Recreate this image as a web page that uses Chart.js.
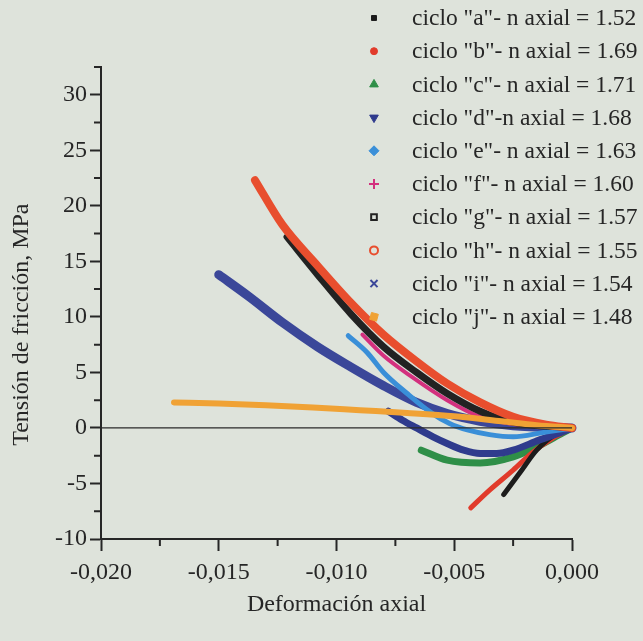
<!DOCTYPE html>
<html>
<head>
<meta charset="utf-8">
<title>Tensión de fricción - Deformación axial</title>
<script src="https://cdn.jsdelivr.net/npm/chart.js@4/dist/chart.umd.min.js"></script>
<style>
    html, body { margin: 0; padding: 0; background: #dee3db; }
    #caja { position: relative; width: 643px; height: 641px; }
</style>
</head>
<body>
<div id="caja"><canvas id="friccionChart" width="643" height="641"></canvas></div>
<script>
    // valores: [deformacion axial, tension MPa]
    var cicloA = [[-0.0029, -6.0], [-0.0022, -4.0], [-0.0015, -2.0], [-0.0006, -0.45], [0, 0]];
    var cicloB = [[-0.0043, -7.2], [-0.0035, -5.6], [-0.0025, -3.8], [-0.0017, -2.25], [-0.0008, -0.9], [0, 0]];
    var cicloC = [[-0.0064, -2.0], [-0.0053, -2.9], [-0.0039, -3.15], [-0.0025, -2.6], [-0.0015, -1.7], [-0.0004, -0.45], [0, 0]];
    var cicloD = [[-0.0078, 1.5], [-0.0072, 0.7], [-0.0066, 0], [-0.0059, -0.8], [-0.0053, -1.4], [-0.0046, -2.0], [-0.0039, -2.3], [-0.0032, -2.3], [-0.0025, -2.0], [-0.0014, -1.1], [-0.0004, -0.35], [0, 0]];
    var cicloE = [[-0.0095, 8.3], [-0.0087, 6.8], [-0.0080, 5.0], [-0.0070, 3.1], [-0.0060, 1.4], [-0.0052, 0.4], [-0.0044, -0.2], [-0.0035, -0.6], [-0.0025, -0.8], [-0.0012, -0.4], [0, 0]];
    var cicloF = [[-0.0089, 8.4], [-0.0080, 6.5], [-0.0068, 4.6], [-0.0053, 2.5], [-0.0039, 1.0], [-0.0025, 0.35], [-0.0012, 0.1], [0, 0]];
    var cicloG = [[-0.0121, 17.2], [-0.0108, 13.8], [-0.0094, 10.3], [-0.0080, 7.3], [-0.0066, 5.0], [-0.0053, 3.1], [-0.0039, 1.5], [-0.0025, 0.5], [0, 0]];
    var cicloH = [[-0.01346, 22.3], [-0.0123, 18.3], [-0.0108, 14.6], [-0.0094, 11.3], [-0.0080, 8.4], [-0.0066, 6.0], [-0.0053, 4.0], [-0.0039, 2.3], [-0.0025, 1.0], [-0.0011, 0.3], [0, 0]];
    var cicloI = [[-0.0150, 13.8], [-0.0137, 11.8], [-0.0123, 9.5], [-0.0108, 7.3], [-0.0094, 5.5], [-0.0080, 3.8], [-0.0066, 2.3], [-0.0053, 1.3], [-0.0039, 0.6], [-0.0025, 0.2], [0, 0]];
    var cicloJ = [[-0.0169, 2.3], [-0.0150, 2.2], [-0.0130, 2.05], [-0.0110, 1.85], [-0.0090, 1.6], [-0.0070, 1.35], [-0.0050, 1.05], [-0.0030, 0.6], [-0.0015, 0.25], [0, 0]];
    var lineaCero = [[-0.020, 0], [0, 0]];

    var nombres = ['ciclo "a"- n axial = 1.52', 'ciclo "b"- n axial = 1.69', 'ciclo "c"- n axial = 1.71',
        'ciclo "d"-n axial = 1.68', 'ciclo "e"- n axial = 1.63', 'ciclo "f"- n axial = 1.60',
        'ciclo "g"- n axial = 1.57', 'ciclo "h"- n axial = 1.55', 'ciclo "i"- n axial = 1.54',
        'ciclo "j"- n axial = 1.48'];
    var series = [cicloA, cicloB, cicloC, cicloD, cicloE, cicloF, cicloG, cicloH, cicloI, cicloJ];
    var colores = ['#1c1c1c', '#e13b2b', '#2f8f48', '#2f3b8d', '#3a8fd8', '#d3307e', '#222222', '#e84e2e', '#3b4799', '#f0a235'];
    var grosor = [5, 5, 7, 7, 5, 4, 7, 8, 9, 6];
    var capa = [8, 9, 10, 7, 5, 4, 3, 2, 6, 1];
    var marcas = ['rect', 'circle', 'triangle', 'triangle', 'rectRot', 'cross', 'rect', 'circle', 'crossRot', 'rect'];
    var relleno = [true, true, true, true, true, false, false, false, false, true];
    var radios = [3.5, 3.5, 5, 5, 5, 5, 4, 4, 5, 5];
    var giros = [0, 0, 0, 180, 0, 0, 0, 0, 0, 15];

    var fuente = "'Liberation Serif', 'Times New Roman', serif";
    var tinta = '#262626';
    var fondo = '#dee3db';

    function aPuntos(arr) {
        return arr.map(function (p) { return { x: p[0], y: p[1] }; });
    }

    var datasets = [];
    for (let i = 0; i < series.length; i++) {
        datasets.push({
            label: nombres[i],
            data: aPuntos(series[i]),
            showLine: true,
            borderColor: colores[i],
            backgroundColor: colores[i],
            borderWidth: grosor[i],
            borderCapStyle: 'round',
            borderJoinStyle: 'round',
            cubicInterpolationMode: 'monotone',
            pointRadius: 0,
            clip: false,
            order: capa[i]
        });
    }
    datasets.push({
        label: 'cero',
        data: aPuntos(lineaCero),
        showLine: true,
        borderColor: '#2a2a2a',
        borderWidth: 1.3,
        pointRadius: 0,
        clip: false,
        order: 0
    });

    function esMayor(v, paso) {
        return Math.abs(v / paso - Math.round(v / paso)) < 1e-6;
    }

    // marcas menores, titulo del eje y y leyenda
    const extras = {
        id: 'extras',
        afterDraw(chart) {
            const ctx = chart.ctx;
            const xs = chart.scales.x, ys = chart.scales.y;
            ctx.save();
            ctx.strokeStyle = tinta;
            ctx.lineWidth = 2;
            ctx.beginPath();
            xs.ticks.forEach(function (t) {
                if (!esMayor(t.value, 0.005)) {
                    const px = xs.getPixelForValue(t.value);
                    ctx.moveTo(px, ys.bottom);
                    ctx.lineTo(px, ys.bottom + 7);
                }
            });
            ys.ticks.forEach(function (t) {
                if (!esMayor(t.value, 5)) {
                    const py = ys.getPixelForValue(t.value);
                    ctx.moveTo(xs.left, py);
                    ctx.lineTo(xs.left - 7, py);
                }
            });
            ctx.stroke();

            // titulo eje y
            ctx.save();
            ctx.translate(22, ys.getPixelForValue(9.3));
            ctx.rotate(-Math.PI / 2);
            ctx.font = '24px ' + fuente;
            ctx.fillStyle = tinta;
            ctx.textAlign = 'center';
            ctx.textBaseline = 'middle';
            ctx.fillText('Tensión de fricción, MPa', 0, 0);
            ctx.restore();

            ctx.font = '23.5px ' + fuente;
            ctx.textBaseline = 'middle';
            for (let i = 0; i < nombres.length; i++) {
                const y = 18 + i * 33.2;
                ctx.fillStyle = relleno[i] ? colores[i] : fondo;
                ctx.strokeStyle = colores[i];
                ctx.lineWidth = relleno[i] ? 1 : 2;
                Chart.helpers.drawPoint(ctx, {
                    pointStyle: marcas[i], radius: radios[i], rotation: giros[i], borderWidth: ctx.lineWidth
                }, 374, y);
                ctx.fillStyle = tinta;
                ctx.fillText(nombres[i], 412, y + 1);
            }
            ctx.restore();
        }
    };

    const config = {
        type: 'scatter',
        data: { datasets: datasets },
        plugins: [extras],
        options: {
            responsive: false,
            animation: false,
            layout: { padding: { left: 0, right: 71, top: 67, bottom: 0 } },
            plugins: { legend: { display: false }, tooltip: { enabled: false } },
            scales: {
                x: {
                    type: 'linear',
                    min: -0.020,
                    max: 0,
                    afterFit: function (s) { s.height = 102; },
                    border: { display: true, color: tinta, width: 2 },
                    grid: {
                        drawOnChartArea: false,
                        drawTicks: true,
                        tickLength: 12,
                        tickWidth: 2,
                        tickColor: function (c) { return esMayor(c.tick.value, 0.005) ? tinta : 'rgba(0,0,0,0)'; }
                    },
                    ticks: {
                        stepSize: 0.0025,
                        autoSkip: false,
                        maxRotation: 0,
                        padding: 7,
                        color: tinta,
                        font: { family: fuente, size: 24 },
                        callback: function (v) {
                            if (!esMayor(v, 0.005)) return '';
                            return (Math.abs(v) < 1e-9 ? 0 : v).toFixed(3).replace('.', ',');
                        }
                    },
                    title: {
                        display: true,
                        text: 'Deformación axial',
                        color: tinta,
                        font: { family: fuente, size: 24 },
                        padding: { top: 0, bottom: 22 }
                    }
                },
                y: {
                    type: 'linear',
                    min: -10,
                    max: 32.5,
                    afterFit: function (s) { s.width = 101; },
                    border: { display: true, color: tinta, width: 2 },
                    grid: {
                        drawOnChartArea: false,
                        drawTicks: true,
                        tickLength: 11,
                        tickWidth: 2,
                        tickColor: function (c) { return esMayor(c.tick.value, 5) ? tinta : 'rgba(0,0,0,0)'; }
                    },
                    ticks: {
                        stepSize: 2.5,
                        autoSkip: false,
                        padding: 3,
                        color: tinta,
                        font: { family: fuente, size: 24 },
                        callback: function (v) {
                            if (!esMayor(v, 5)) return '';
                            return Math.round(v).toString();
                        }
                    },
                    title: { display: false }
                }
            }
        }
    };

    var ctx = document.getElementById('friccionChart').getContext('2d');
    var friccionChart = new Chart(ctx, config);
</script>
</body>
</html>
